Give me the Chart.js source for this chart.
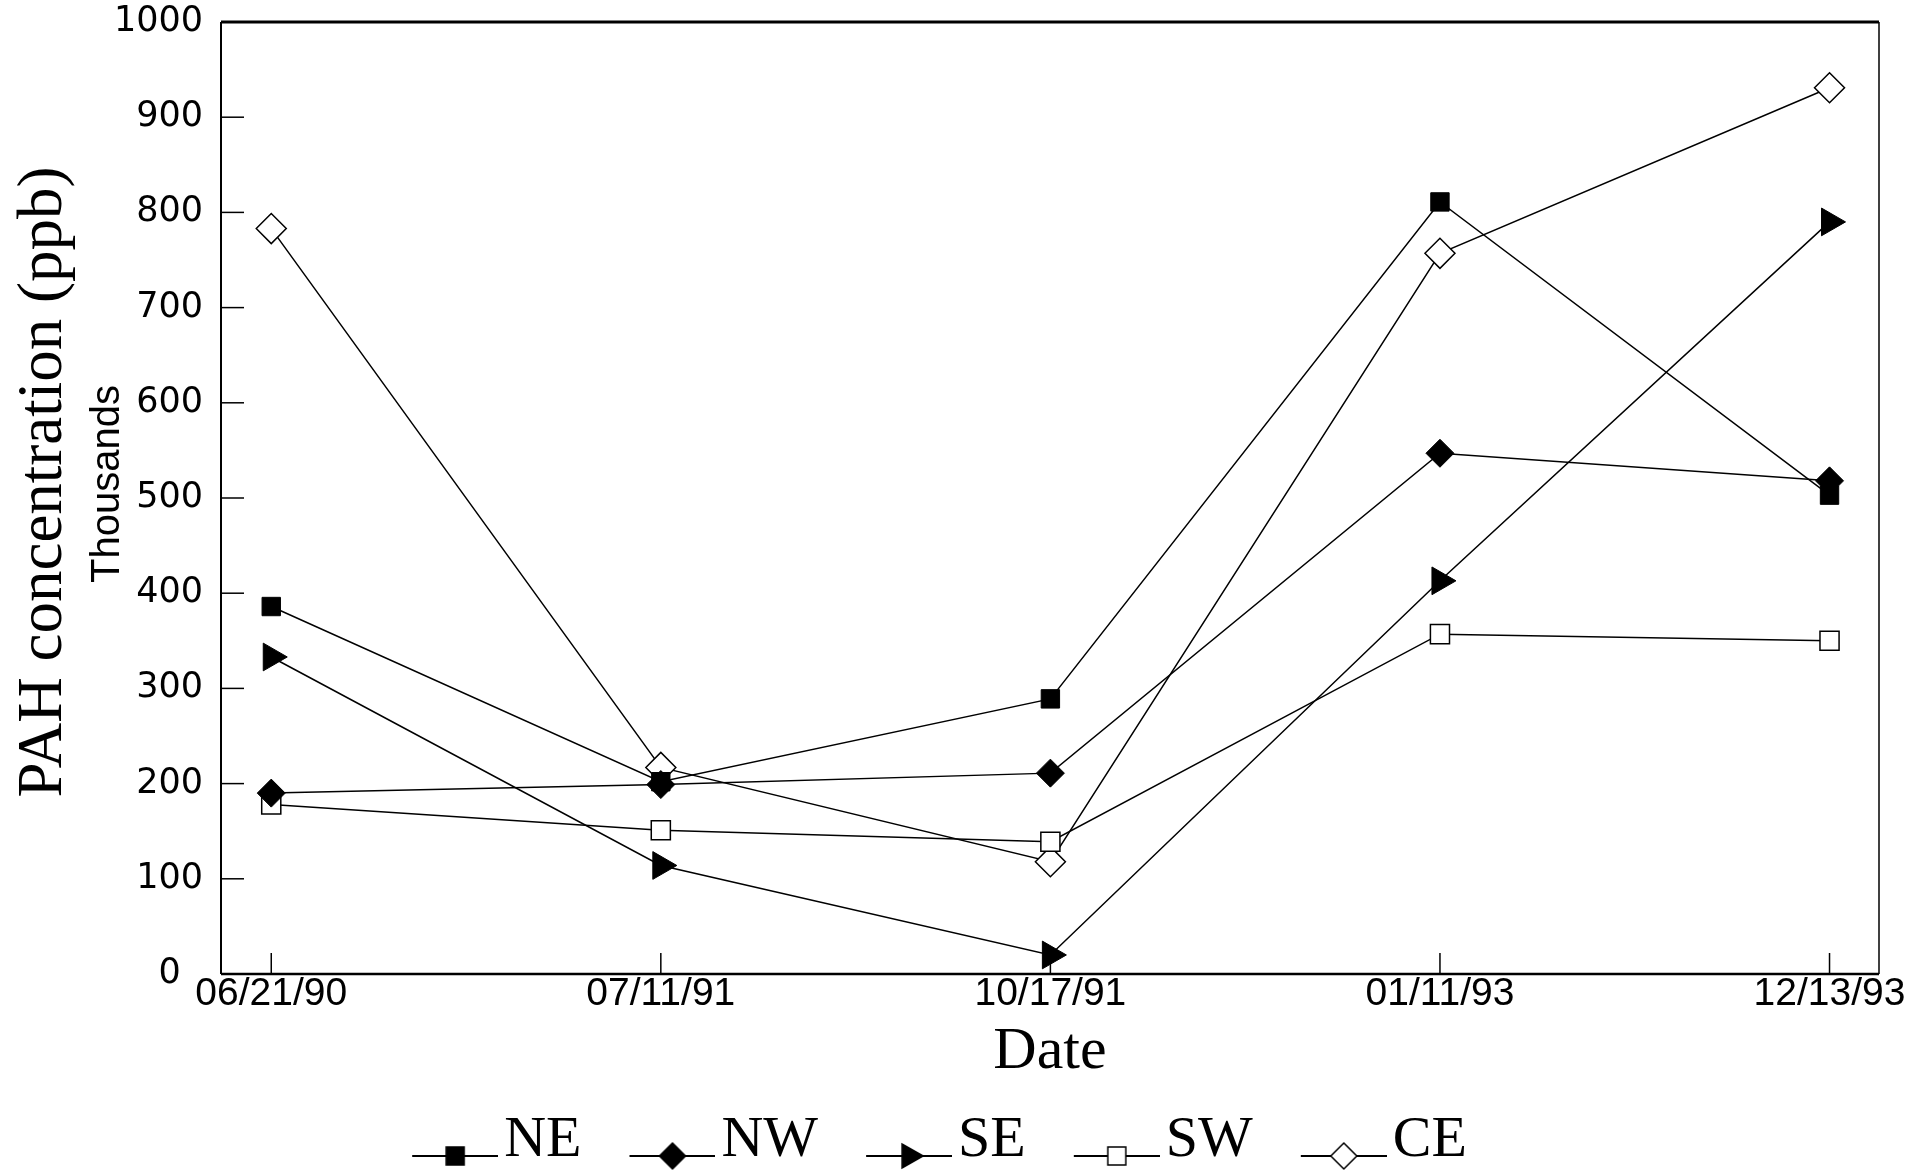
<!DOCTYPE html>
<html>
<head>
<meta charset="utf-8">
<title>PAH concentration</title>
<script src="https://cdn.jsdelivr.net/npm/chart.js@4.4.1/dist/chart.umd.min.js"></script>
<style>
  html, body { margin: 0; padding: 0; background: #fff; overflow: hidden; }
  #wrap { width: 1928px; height: 1180px; }
</style>
</head>
<body>
<div id="wrap"><canvas id="pahChart"></canvas></div>
<script>
// sampling dates (x axis)
var dateLabels = ["06/21/90", "07/11/91", "10/17/91", "01/11/93", "12/13/93"];
// y ticks, thousands of ppb
var yTickValues = [0, 100, 200, 300, 400, 500, 600, 700, 800, 900, 1000];

// PAH concentration per site, thousands ppb
var neValues = [386, 202, 289, 811, 503];
var nwValues = [190, 199, 211, 547, 518];
var seValues = [333, 114, 20, 413, 790];
var swValues = [178, 151, 139, 357, 350];
var ceValues = [783, 217, 118, 757, 931];

var serif = "'Liberation Serif', 'Times New Roman', serif";

// legend icon: short line with the marker in the middle
function legendIcon(style, filled) {
  var c = document.createElement("canvas");
  c.width = 109;
  c.height = 70;
  var g = c.getContext("2d");
  var cx = 66, cy = 50;
  g.strokeStyle = "#000";
  g.lineWidth = 2;
  g.beginPath();
  g.moveTo(23, cy);
  g.lineTo(109, cy);
  g.stroke();
  g.beginPath();
  if (style === "rect") {
    g.rect(cx - 9, cy - 9, 18, 18);
  } else if (style === "rectRot") {
    g.moveTo(cx, cy - 13);
    g.lineTo(cx + 13, cy);
    g.lineTo(cx, cy + 13);
    g.lineTo(cx - 13, cy);
    g.closePath();
  } else {
    g.moveTo(cx + 14, cy);
    g.lineTo(cx - 7, cy - 12);
    g.lineTo(cx - 7, cy + 12);
    g.closePath();
  }
  g.fillStyle = filled ? "#000" : "#fff";
  g.fill();
  g.lineWidth = 1.5;
  g.stroke();
  return c;
}

function makeSet(label, values, style, rotation, radius, filled) {
  return {
    label: label,
    data: values.map(function (v, i) { return { x: i, y: v }; }),
    borderColor: "#000",
    borderWidth: 1.5,
    pointStyle: style,
    rotation: rotation,
    pointRadius: radius,
    pointBackgroundColor: filled ? "#000" : "#fff",
    pointBorderColor: "#000",
    pointBorderWidth: filled ? 1 : 1.5,
    legendIcon: legendIcon(style, filled),
    tension: 0,
    fill: false
  };
}

// frame, inward ticks, the y title and the "Thousands" note
var framePlugin = {
  id: "frame",
  beforeDatasetsDraw: function (chart) {
    var ctx = chart.ctx;
    var a = chart.chartArea;
    var xs = chart.scales.x, ys = chart.scales.y;
    ctx.save();
    ctx.strokeStyle = "#000";
    ctx.lineCap = "butt";

    ctx.lineWidth = 3;
    ctx.beginPath(); ctx.moveTo(a.left, a.top); ctx.lineTo(a.right, a.top); ctx.stroke();
    ctx.lineWidth = 2.5;
    ctx.beginPath(); ctx.moveTo(a.left, a.bottom); ctx.lineTo(a.right, a.bottom); ctx.stroke();
    ctx.lineWidth = 2;
    ctx.beginPath(); ctx.moveTo(a.left, a.top); ctx.lineTo(a.left, a.bottom); ctx.stroke();
    ctx.lineWidth = 1.5;
    ctx.beginPath(); ctx.moveTo(a.right, a.top); ctx.lineTo(a.right, a.bottom); ctx.stroke();

    ctx.lineWidth = 1.5;
    yTickValues.forEach(function (v) {
      if (v === 0 || v === 1000) return;
      var py = ys.getPixelForValue(v);
      ctx.beginPath(); ctx.moveTo(a.left, py); ctx.lineTo(a.left + 23, py); ctx.stroke();
    });
    dateLabels.forEach(function (l, i) {
      var px = xs.getPixelForValue(i);
      ctx.beginPath(); ctx.moveTo(px, a.bottom); ctx.lineTo(px, a.bottom - 21); ctx.stroke();
    });

    var midY = (a.top + a.bottom) / 2;
    ctx.fillStyle = "#000";
    ctx.textAlign = "center";
    ctx.textBaseline = "middle";

    ctx.save();
    ctx.translate(ys.left + 44, midY - 16);
    ctx.rotate(-Math.PI / 2);
    ctx.font = "63px " + serif;
    ctx.fillText("PAH concentration (ppb)", 0, 0);
    ctx.restore();

    ctx.save();
    ctx.translate(ys.left + 108, midY - 14);
    ctx.rotate(-Math.PI / 2);
    ctx.font = "40px 'Liberation Sans'";
    ctx.fillText("Thousands", 0, 0);
    ctx.restore();

    ctx.restore();
  }
};

Chart.defaults.color = "#000";
Chart.defaults.font.family = "'Liberation Sans', Arial, sans-serif";

var ctx = document.getElementById("pahChart").getContext("2d");
var myChart = new Chart(ctx, {
  type: "line",
  data: {
    datasets: [
      makeSet("NE", neValues, "rect", 0, 13, true),
      makeSet("NW", nwValues, "rectRot", 0, 14, true),
      makeSet("SE", seValues, "triangle", 90, 16, true),
      makeSet("SW", swValues, "rect", 0, 13.5, false),
      makeSet("CE", ceValues, "rectRot", 0, 15, false)
    ]
  },
  options: {
    responsive: true,
    maintainAspectRatio: false,
    animation: false,
    layout: { padding: { top: 22, right: 49, left: 0, bottom: 0 } },
    plugins: {
      tooltip: { enabled: false },
      legend: {
        position: "bottom",
        labels: {
          usePointStyle: true,
          pointStyleWidth: 63,
          padding: 48,
          color: "#000",
          font: { family: serif, size: 58 },
          generateLabels: function (chart) {
            return chart.data.datasets.map(function (ds, i) {
              return {
                text: ds.label,
                pointStyle: ds.legendIcon,
                fillStyle: "#000",
                strokeStyle: "#000",
                lineWidth: 0,
                fontColor: "#000",
                hidden: false,
                datasetIndex: i
              };
            });
          }
        }
      }
    },
    scales: {
      x: {
        type: "linear",
        min: -0.129,
        max: 4.127,
        grid: { display: false },
        border: { display: false },
        afterBuildTicks: function (scale) {
          scale.ticks = dateLabels.map(function (l, i) { return { value: i }; });
        },
        afterFit: function (scale) { scale.height = 90; },
        ticks: {
          padding: -11,
          maxRotation: 0,
          autoSkip: false,
          font: { size: 39 },
          callback: function (v) { return dateLabels[v]; }
        },
        title: {
          display: true,
          text: "Date",
          padding: { top: 0, bottom: -24 },
          font: { family: serif, size: 60 }
        }
      },
      y: {
        min: 0,
        max: 1000,
        grid: { display: false },
        border: { display: false },
        afterBuildTicks: function (scale) {
          scale.ticks = yTickValues.map(function (v) { return { value: v }; });
        },
        afterFit: function (scale) {
          scale.width = 221;
          scale.paddingTop = 0;
        },
        ticks: {
          padding: 10,
          font: { family: "'DejaVu Sans', sans-serif", size: 35 },
          callback: function (v) { return v === 0 ? "0\u00a0\u00a0" : String(v); }
        }
      }
    }
  },
  plugins: [framePlugin]
});
</script>
</body>
</html>
